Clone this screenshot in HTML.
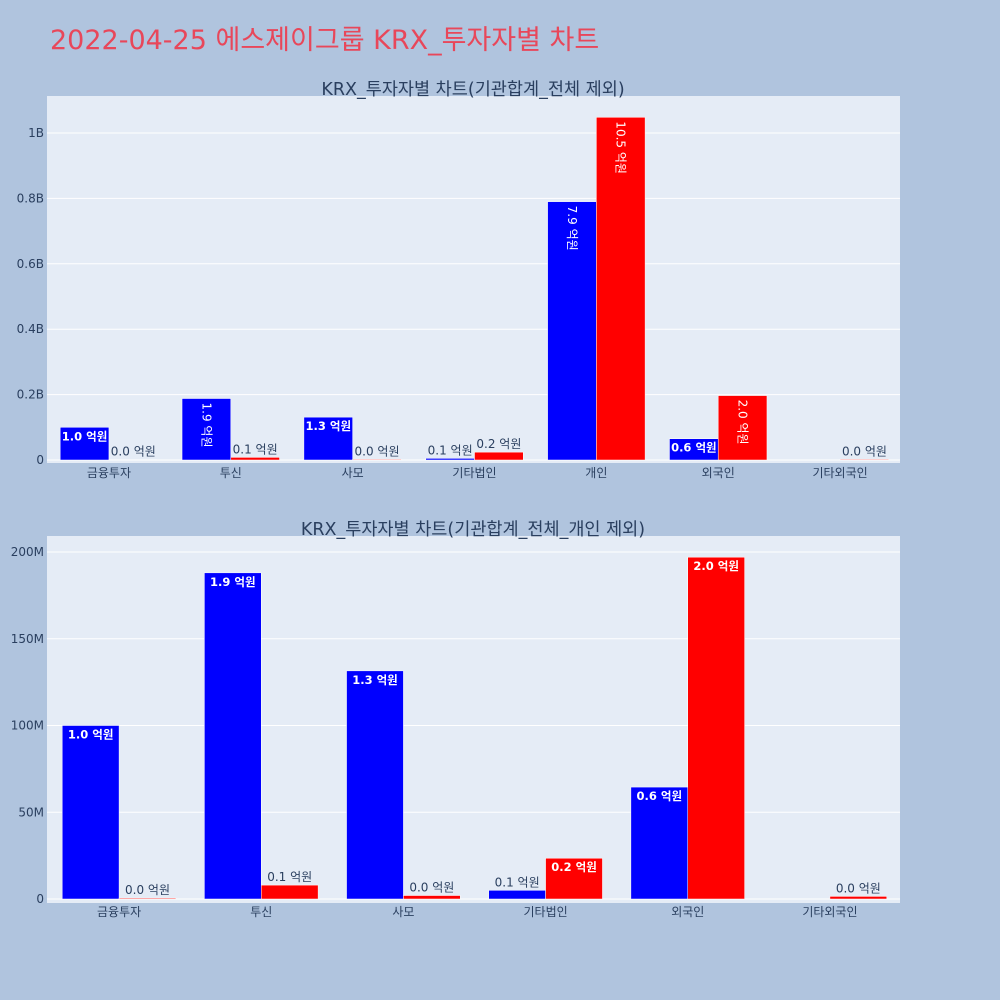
<!DOCTYPE html>
<html><head><meta charset="utf-8"><style>
body{margin:0;background:#b0c4de;}
svg{display:block;font-family:"DejaVu Sans","Noto Sans CJK KR",sans-serif;}
</style></head><body>
<svg id="s" width="1000" height="1000" xmlns="http://www.w3.org/2000/svg">
<rect width="1000" height="1000" fill="#b0c4de"/>
<text x="50" y="49" font-size="27" fill="#e8475a">2022-04-25 에스제이그룹 KRX_투자자별 차트</text>
</svg>
<script>
const cats1=["금융투자","투신","사모","기타법인","개인","외국인","기타외국인"];
const blue1=[0.100,0.188,0.131,0.005,0.790,0.065,0];
const red1=[0.001,0.008,0.002,0.024,1.048,0.197,0.002];
const labB1=["1.0 억원","1.9 억원","1.3 억원","0.1 억원","7.9 억원","0.6 억원",""];
const labR1=["0.0 억원","0.1 억원","0.0 억원","0.2 억원","10.5 억원","2.0 억원","0.0 억원"];
const ticks1=[0,0.2,0.4,0.6,0.8,1.0];
const tickLab1=["0","0.2B","0.4B","0.6B","0.8B","1B"];
const cats2=["금융투자","투신","사모","기타법인","외국인","기타외국인"];
const blue2=[100,188,131.5,5,64.5,0];
const red2=[0.5,8,2,23.5,197,1.5];
const labB2=["1.0 억원","1.9 억원","1.3 억원","0.1 억원","0.6 억원",""];
const labR2=["0.0 억원","0.1 억원","0.0 억원","0.2 억원","2.0 억원","0.0 억원"];
const ticks2=[0,50,100,150,200];
const tickLab2=["0","50M","100M","150M","200M"];
const NS="http://www.w3.org/2000/svg";
const svg=document.getElementById('s');
function mk(t,a,p){const e=document.createElementNS(NS,t);for(const k in a)e.setAttribute(k,a[k]);(p||svg).appendChild(e);return e;}
function chart(o){
  const g=mk('g',{});
  
  
  const bg=mk('rect',{x:o.x0,y:o.top,width:o.x1-o.x0,height:o.bot-o.top,fill:'#e5ecf6'},g);
  
  
  const y=v=>o.y0-(v/o.vmax)*(o.y0-o.ymaxPx);
  o.ticks.forEach((t,i)=>{
    const l=mk('line',{x1:o.x0,x2:o.x1,y1:y(t),y2:y(t),stroke:'#fff','stroke-width':1},g);
    
    
    const tx=mk('text',{x:o.x0-3,y:y(t)+4,'font-size':12,fill:'#2a3f5f','text-anchor':'end'},g);
    tx.textContent=o.tickLab[i];
    
    
  });
  const tt=mk('text',{x:473,y:o.top-1,'font-size':17.5,fill:'#2a3f5f','text-anchor':'middle'},g);
  tt.textContent=o.title;
  
  
  const n=o.cats.length,cw=(o.x1-o.x0)/n,bw=cw*0.4;
  o.cats.forEach((c,i)=>{
    const cx=o.x0+cw*(i+0.5)+1;
    const xl=mk('text',{x:cx,y:o.y0+17,'font-size':12,fill:'#2a3f5f','text-anchor':'middle'},g);
    xl.textContent=c;
    
    
    [[o.blue[i],'#0000ff',cx-bw,o.labB[i]],[o.red[i],'#ff0000',cx,o.labR[i]]].forEach(([v,col,bx,lab])=>{
      const yt=y(v),h=o.y0-yt;
      const r=mk('rect',{x:bx,y:yt,width:bw,height:Math.max(h,0),fill:col,stroke:'#fff','stroke-width':0.5},g);
      
      
      if(!lab)return;
      let t;
      if(h>18){
        if(o.rot && h>bw+5){
          t=mk('text',{x:0,y:0,'font-size':12,fill:'#fff',transform:`translate(${bx+bw/2-4},${yt+4}) rotate(90)`},g);
        }else{
          t=mk('text',{x:bx+bw/2,y:yt+13,'font-size':11.5,fill:'#fff','font-weight':'bold','text-anchor':'middle'},g);
        }
      }else{
        t=mk('text',{x:bx+bw/2,y:yt-4,'font-size':12,fill:'#2a3f5f','text-anchor':'middle'},g);
      }
      t.textContent=lab;
      
      
    });
  });
}
chart({name:'chart-all',title:'KRX_투자자별 차트(기관합계_전체 제외)',x0:47,x1:900,top:96,bot:463,y0:460,ymaxPx:133,vmax:1,ticks:ticks1,tickLab:tickLab1,cats:cats1,blue:blue1,red:red1,labB:labB1,labR:labR1,rot:true});
chart({name:'chart-no-individual',title:'KRX_투자자별 차트(기관합계_전체_개인 제외)',x0:47,x1:900,top:536,bot:903,y0:899,ymaxPx:552,vmax:200,ticks:ticks2,tickLab:tickLab2,cats:cats2,blue:blue2,red:red2,labB:labB2,labR:labR2,rot:false});
</script>
</body></html>
